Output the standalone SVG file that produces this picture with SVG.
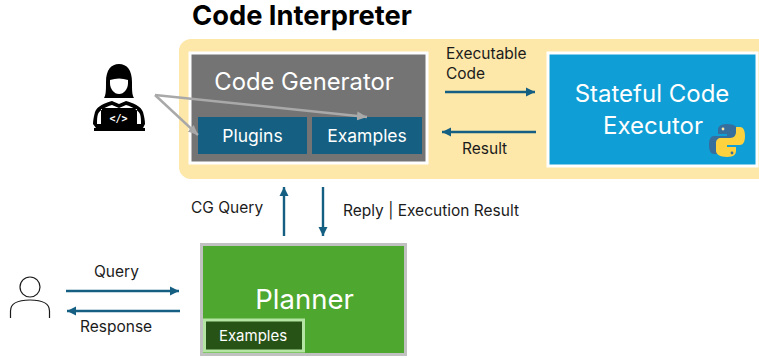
<svg xmlns="http://www.w3.org/2000/svg" width="759" height="358" viewBox="0 0 759 358">
<style>
text{font-family:"Inter","Open Sans","Liberation Sans",sans-serif}
.d{fill:#1b1b1b;font-size:15.500px}
.w{fill:#fff;text-anchor:middle}
.c{fill:none;stroke:#156082;stroke-width:2.400px}
.g{fill:none;stroke:#a9a9a9;stroke-width:2.400px}
</style>
<defs>
<marker id="a" markerUnits="userSpaceOnUse" markerWidth="10" markerHeight="10" refX="9" refY="5" orient="auto"><path d="M0 0.500L9 5L0 9.500Z" fill="#156082"/></marker>
<marker id="b" markerUnits="userSpaceOnUse" markerWidth="11" markerHeight="11" refX="10" refY="5.500" orient="auto"><path d="M0 1L10 5.500L0 10Z" fill="#a9a9a9"/></marker>
</defs>
<rect width="759" height="358" fill="#fff"/>
<text x="192" y="25" font-size="27.300" font-weight="700" fill="#000">Code Interpreter</text>
<g id="code-interpreter"><rect x="179" y="39" width="600" height="140" rx="12" fill="#fde7a9"/></g>
<g id="code-generator">
<rect x="190" y="53" width="237" height="110" fill="#747474" stroke="#fff" stroke-width="3"/>
<text class="w" x="304" y="90" font-size="23.800">Code Generator</text>
</g>
<g id="plugins"><rect x="198" y="117" width="109" height="37" fill="#156082"/><text class="w" x="252.500" y="142" font-size="17.500">Plugins</text></g>
<g id="examples"><rect x="312" y="117" width="110" height="37" fill="#156082"/><text class="w" x="367" y="142" font-size="17.500">Examples</text></g>
<g id="executor">
<rect x="548" y="53" width="209" height="113" fill="#0f9ed5" stroke="#fff" stroke-width="3"/>
<text class="w" x="652" y="102" font-size="24">Stateful Code</text>
<text class="w" x="653" y="134" font-size="24">Executor</text>
<path d="M727 124c-7 0-9 3-9 6v4h9v2h-13c-3 0-5 3-5 9s2 9 5 9h4v-5c0-3 2-6 6-6h9c3 0 5-2 5-5v-8c0-3-4-6-11-6Z" fill="#366e9e"/>
<path d="M727 157c7 0 9-3 9-6v-4h-9v-2h13c3 0 5-3 5-9s-2-9-5-9h-4v5c0 3-2 6-6 6h-9c-3 0-5 2-5 5v8c0 3 4 6 11 6Z" fill="#fdd23e"/>
<circle cx="723" cy="129" r="1.400" fill="#fde7a9"/><circle cx="732" cy="153" r="1.400" fill="#366e9e"/>
</g>
<g id="developer">
<path d="M104 98c2-3 2-8 2-16c0-12 5-18 13-18s13 6 13 18c0 8 0 13 2 16Z" fill="#000"/>
<path d="M110 80q9-3 18 0v3c0 6-4 11-9 11s-9-5-9-11Z" fill="#fff"/>
<path d="M93 124c0-4 1-8 2-12c2-6 10-9 17-11l7 3 7-3c7 2 15 5 17 11c1 4 2 8 2 12l-2 4h2v3H94v-3h2Z" fill="#000"/>
<path d="M97 124c0-4 0-7 1-10c2-4 7-7 14-9l7 3 7-3c7 2 12 5 14 9c1 3 1 6 1 10h-4v-15h-36v15Z" fill="#fff"/>
<rect x="102" y="108" width="33" height="20" fill="#000"/>
<text class="w" x="118.500" y="122" font-size="10" font-weight="700" style="font-family:'DejaVu Sans Mono',monospace">&lt;/&gt;</text>
</g>
<g id="user" fill="none" stroke="#1b1b1b" stroke-width="1.200">
<circle cx="30" cy="287" r="10"/>
<path d="M10.500 318v-7c0-9 9-11 19.500-11s19.500 2 19.500 11v7"/>
</g>
<g id="planner">
<rect x="201.500" y="244.500" width="204" height="110" fill="#4ea72e" stroke="#c1c1c1" stroke-width="3"/>
<text class="w" x="304.500" y="309" font-size="27.500">Planner</text>
<rect x="204.500" y="320" width="99" height="31" fill="#275317" stroke="#b4e5a2" stroke-width="3"/>
<text class="w" x="253" y="340.500" font-size="15">Examples</text>
</g>
<g id="connectors">
<path class="g" d="M155 95L198 135" marker-end="url(#b)"/>
<path class="g" d="M155 95L367 117" marker-end="url(#b)"/>
<path class="c" d="M445 92H535" marker-end="url(#a)"/>
<path class="c" d="M536 132H442" marker-end="url(#a)"/>
<path class="c" d="M284 236V187" marker-end="url(#a)"/>
<path class="c" d="M323 187V236" marker-end="url(#a)"/>
<path class="c" d="M66 291H179" marker-end="url(#a)"/>
<path class="c" d="M180 311H67" marker-end="url(#a)"/>
</g>
<text class="d" x="446" y="59">Executable</text>
<text class="d" x="446" y="79">Code</text>
<text class="d" x="462" y="154">Result</text>
<text class="d" x="191" y="213">CG Query</text>
<text class="d" x="343" y="216">Reply | Execution Result</text>
<text class="d" x="94" y="277">Query</text>
<text class="d" x="80" y="332">Response</text>
</svg>
